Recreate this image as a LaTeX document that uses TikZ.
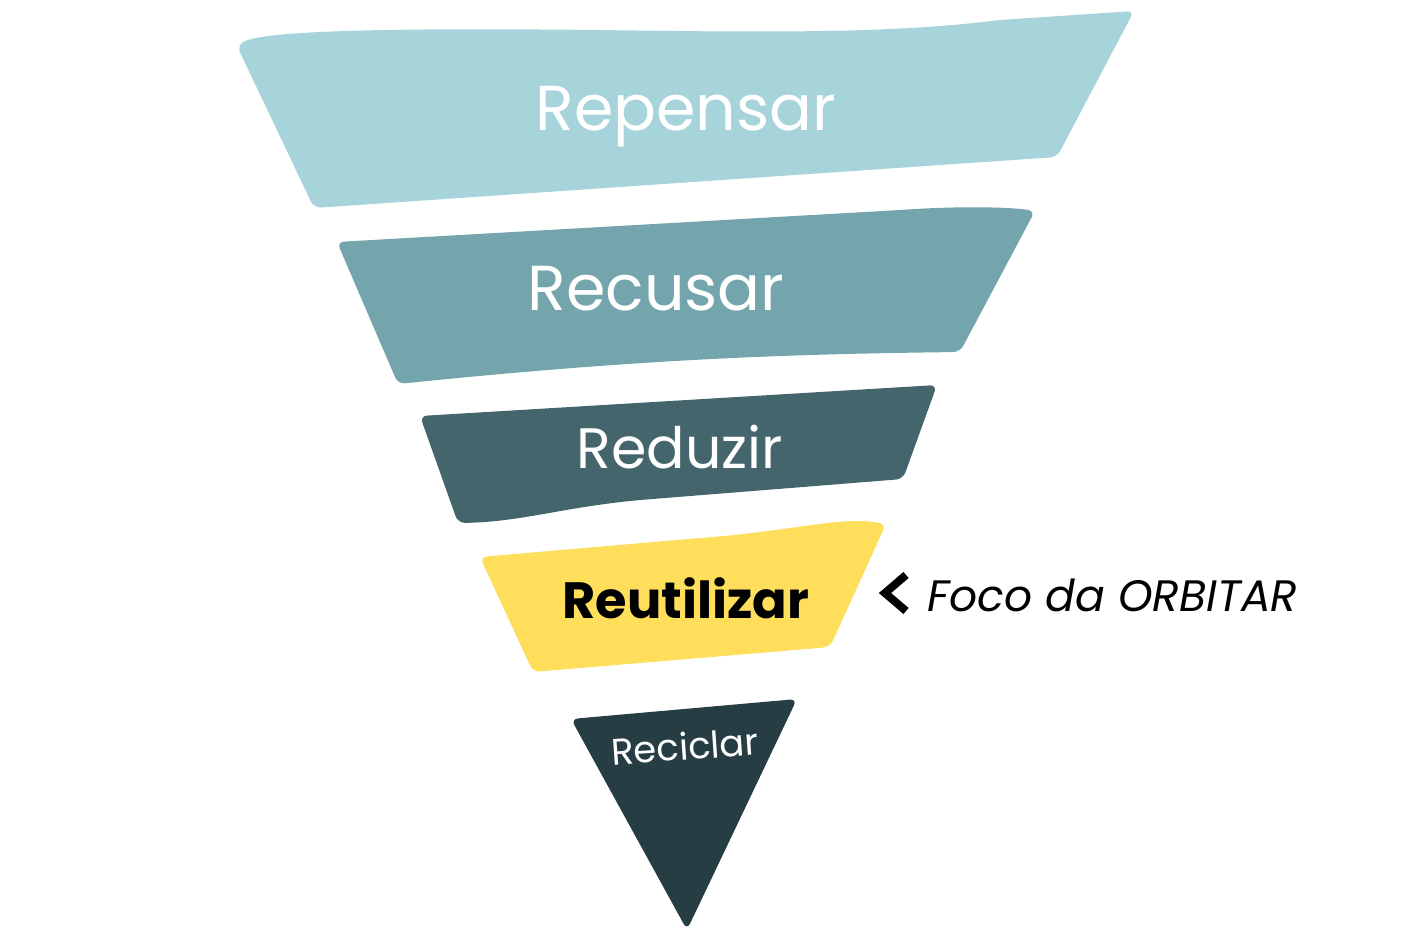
\documentclass[tikz,border=0pt]{standalone}
\usepackage{fontspec}
\setmainfont{Poppins}
\definecolor{cRep}{HTML}{A7D3DB}
\definecolor{cRec}{HTML}{74A5AD}
\definecolor{cRed}{HTML}{44656C}
\definecolor{cReu}{HTML}{FEDE5A}
\definecolor{cRc}{HTML}{263E43}
\tikzset{
  band/.style={rounded corners=7pt},
  lbl/.style={anchor=base, inner sep=0pt, text=white},
}
\begin{document}
\begin{tikzpicture}[x=1pt,y=-1pt]
\useasboundingbox (0,0) rectangle (1408,948);
% Repensar
\fill[cRep, band] (237,46) .. controls (262,30) and (400,28) .. (600,30)
  .. controls (800,33) and (900,32) .. (1000,20) -- (1134,11) -- (1057,157) -- (314,208) -- cycle;
% Recusar
\fill[cRec, band] (337,242) -- (900,210) .. controls (960,206) and (1010,207) .. (1035,211)
  -- (960,352) .. controls (800,354) and (650,358) .. (398,384) -- cycle;
% Reduzir
\fill[cRed, band] (420,416) -- (937,385) -- (903,479) -- (640,500)
  .. controls (560,508) and (520,522) .. (458,523) -- cycle;
% Reutilizar
\fill[cReu, band] (480,557) -- (700,538) .. controls (800,530) and (840,516) .. (886,524)
  -- (830,647) -- (533,672) -- cycle;
% Reciclar
\fill[cRc, band] (571,719) -- (797,699) -- (687,930) -- cycle;

\node[lbl, font=\fontsize{63.5}{63.5}\selectfont] (rep) at (686,130) {Repensar};
\node[lbl, font=\fontsize{63.5}{63.5}\selectfont] (rec) at (656,310) {Recusar};
\node[lbl, font=\fontsize{57}{57}\selectfont] (red) at (680,468) {Reduzir};
\node[lbl, text=black, font=\bfseries\fontsize{51}{51}\selectfont] (reu) at (686,618) {Reutilizar};
\node[lbl, rotate=4, font=\fontsize{37}{37}\selectfont] (rc) at (686,760) {Reciclar};
\node[anchor=base west, inner sep=0pt, font=\itshape\fontsize{44}{44}\selectfont] (foco) at (927,611) {Foco da ORBITAR};
\draw[line width=8pt, miter limit=10] (906,575) -- (885,593) -- (906,611);
\end{tikzpicture}
\end{document}
